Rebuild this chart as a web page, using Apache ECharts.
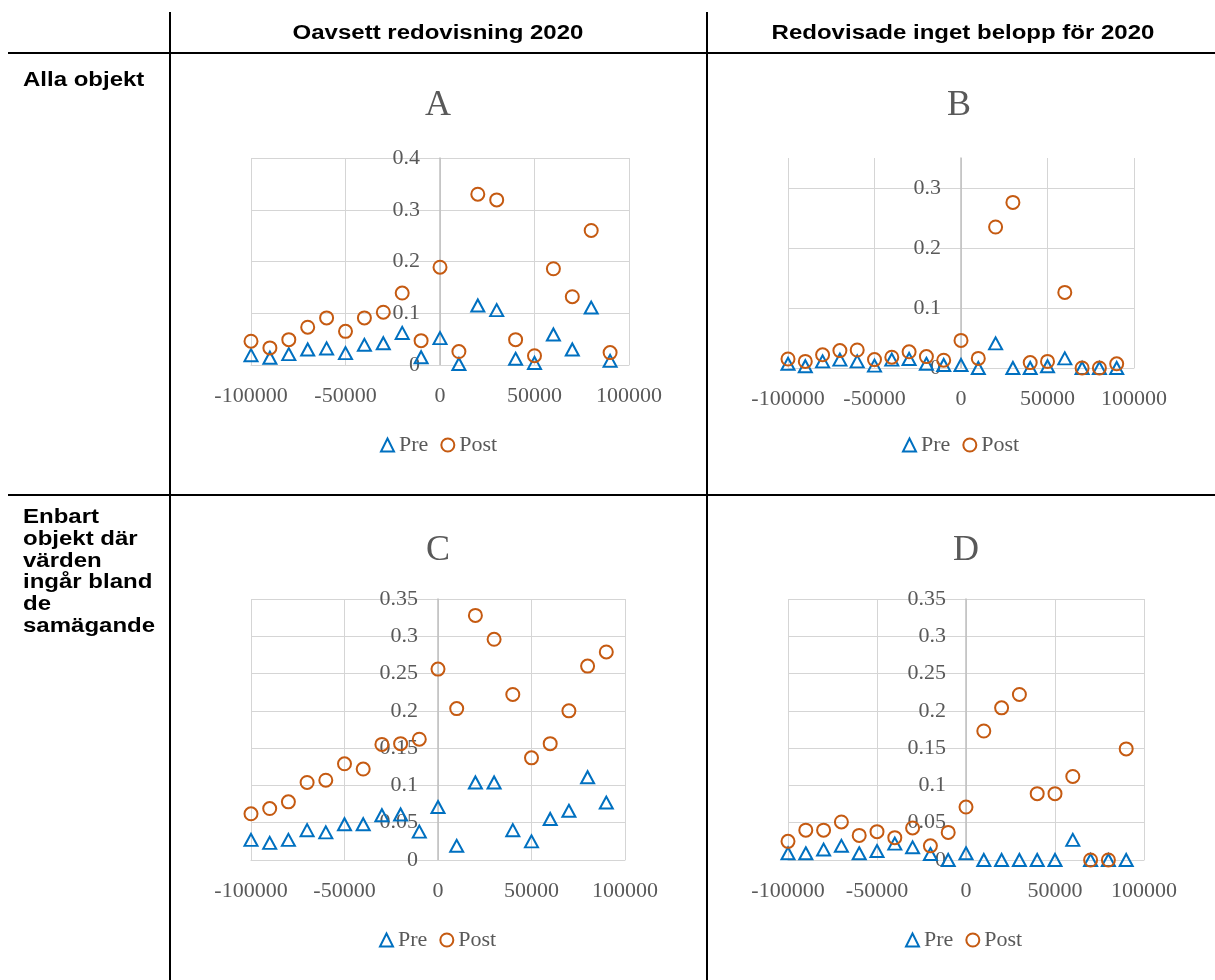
<!DOCTYPE html>
<html>
<head>
<meta charset="utf-8">
<script src="https://cdn.jsdelivr.net/npm/echarts@6/dist/echarts.min.js"></script>
<style>
  html, body { margin: 0; padding: 0; background: #ffffff; }
  #chart { width: 1215px; height: 980px; }
</style>
</head>
<body>
<div id="chart"></div>
<script>
// ---- data -------------------------------------------------------------
// Distance class (kr) on the horizontal axis
const bins = [-100000, -90000, -80000, -70000, -60000, -50000, -40000, -30000, -20000, -10000,
              0, 10000, 20000, 30000, 40000, 50000, 60000, 70000, 80000, 90000];

const seriesNames = ['Pre', 'Post'];
const panelTitles = ['A', 'B', 'C', 'D'];
const columnHeaders = ['Oavsett redovisning 2020', 'Redovisade inget belopp för 2020'];
const rowHeaders = ['Alla objekt', 'Enbart\nobjekt där\nvärden\ningår bland\nde\nsamägande'];

// A: alla objekt, oavsett redovisning 2020
const aPre  = [0.019, 0.014, 0.021, 0.030, 0.032, 0.023, 0.039, 0.042, 0.062, 0.015,
               0.052, 0.002, 0.115, 0.106, 0.012, 0.004, 0.059, 0.030, 0.111, 0.008];
const aPost = [0.046, 0.033, 0.049, 0.073, 0.091, 0.065, 0.091, 0.102, 0.139, 0.047,
               0.189, 0.026, 0.330, 0.319, 0.049, 0.018, 0.186, 0.132, 0.260, 0.024];
// B: alla objekt, redovisade inget belopp för 2020
const bPre  = [0.007, 0.003, 0.011, 0.014, 0.011, 0.004, 0.014, 0.015, 0.007, 0.005,
               0.005, 0.000, 0.041, 0.000, 0.000, 0.003, 0.016, 0.000, 0.000, 0.000];
const bPost = [0.015, 0.011, 0.022, 0.029, 0.030, 0.014, 0.018, 0.027, 0.019, 0.013,
               0.046, 0.016, 0.235, 0.276, 0.009, 0.011, 0.126, 0.000, 0.000, 0.007];
// C: samägda objekt, oavsett redovisning 2020
const cPre  = [0.027, 0.023, 0.027, 0.040, 0.037, 0.048, 0.048, 0.060, 0.061, 0.038,
               0.071, 0.019, 0.104, 0.104, 0.040, 0.025, 0.055, 0.066, 0.111, 0.077];
const cPost = [0.062, 0.069, 0.078, 0.104, 0.107, 0.129, 0.122, 0.155, 0.156, 0.162,
               0.256, 0.203, 0.328, 0.296, 0.222, 0.137, 0.156, 0.200, 0.260, 0.279];
// D: samägda objekt, redovisade inget belopp för 2020
const dPre  = [0.009, 0.009, 0.014, 0.019, 0.009, 0.012, 0.022, 0.017, 0.008, 0.000,
               0.009, 0.000, 0.000, 0.000, 0.000, 0.000, 0.027, 0.000, 0.000, 0.000];
const dPost = [0.025, 0.040, 0.040, 0.051, 0.033, 0.038, 0.030, 0.043, 0.019, 0.037,
               0.071, 0.173, 0.204, 0.222, 0.089, 0.089, 0.112, 0.000, 0.000, 0.149];

const panelData = [[aPre, aPost], [bPre, bPost], [cPre, cPost], [dPre, dPost]];

// ---- layout -----------------------------------------------------------
const panels = [
  { left: 251, top: 158, width: 378, height: 207, yMax: 0.40, yStep: 0.10, topLine: true,
    title: [438, 106], legend: [380, 434] },
  { left: 788, top: 158, width: 346, height: 210, yMax: 0.35, yStep: 0.10, topLine: false,
    title: [959, 106], legend: [902, 434] },
  { left: 251, top: 599, width: 374, height: 261, yMax: 0.35, yStep: 0.05, topLine: true,
    title: [438, 551], legend: [379, 929] },
  { left: 788, top: 599, width: 356, height: 261, yMax: 0.35, yStep: 0.05, topLine: true,
    title: [966, 551], legend: [905, 929] }
];

const serifFont = "'Liberation Serif', 'Times New Roman', serif";
const sansFont = "'Liberation Sans', Arial, sans-serif";
const labelGrey = '#595959';
const gridGrey = '#d5d5d5';
const preColor = '#0070C0';
const postColor = '#C55A11';

const markerStyles = [
  { symbol: 'triangle', symbolSize: [13, 12], color: preColor },
  { symbol: 'circle', symbolSize: 13, color: postColor }
];

const grids = [], xAxes = [], yAxes = [], series = [], legends = [], graphics = [];

panels.forEach((p, i) => {
  grids.push({
    left: p.left, top: p.top, width: p.width, height: p.height,
    containLabel: false, outerBoundsMode: 'none'
  });
  xAxes.push({
    type: 'value', gridIndex: i, min: -100000, max: 100000, interval: 50000,
    axisLine: { show: true, lineStyle: { color: gridGrey, width: 1 } },
    axisTick: { show: false },
    axisLabel: {
      margin: 20, color: labelGrey, fontFamily: serifFont, fontSize: 22,
      formatter: v => String(v)
    },
    splitLine: { show: true, lineStyle: { color: gridGrey, width: 1 } }
  });
  // the vertical axis crosses the horizontal one at 0, in the middle of the plot
  yAxes.push({
    type: 'value', gridIndex: i, min: 0, max: p.yMax, interval: p.yStep,
    position: 'left', offset: -p.width / 2,
    axisLine: { show: true, onZero: false, lineStyle: { color: '#bfbfbf', width: 1.5 } },
    axisTick: { show: false },
    axisLabel: {
      margin: 20, color: labelGrey, fontFamily: serifFont, fontSize: 22,
      showMaxLabel: p.topLine,
      formatter: v => String(Math.round(v * 100) / 100)
    },
    splitLine: { show: true, showMaxLine: p.topLine, lineStyle: { color: gridGrey, width: 1 } }
  });
  seriesNames.forEach((name, s) => {
    const m = markerStyles[s];
    series.push({
      type: 'scatter', name: name, xAxisIndex: i, yAxisIndex: i,
      symbol: m.symbol, symbolSize: m.symbolSize,
      itemStyle: { color: 'rgba(255,255,255,0)', borderColor: m.color, borderWidth: 2, opacity: 1 },
      emphasis: { disabled: true },
      z: 3 + s,
      data: bins.map((x, k) => [x, panelData[i][s][k]])
    });
  });
  legends.push({
    left: p.legend[0], top: p.legend[1], padding: 0,
    itemWidth: 13, itemHeight: 13, itemGap: 12,
    selectedMode: false,
    textStyle: { color: labelGrey, fontFamily: serifFont, fontSize: 22 },
    data: seriesNames
  });
  graphics.push({
    type: 'text', x: p.title[0], y: p.title[1],
    style: {
      text: panelTitles[i], fill: labelGrey, fontFamily: serifFont, fontSize: 36,
      align: 'center', verticalAlign: 'middle'
    }
  });
});

// table rules
const rule = (x1, y1, x2, y2) => ({
  type: 'line', silent: true,
  shape: { x1, y1, x2, y2 },
  style: { stroke: '#000000', lineWidth: 2 }
});
graphics.push(rule(170, 12, 170, 980), rule(707, 12, 707, 980),
              rule(8, 53, 1215, 53), rule(8, 495, 1215, 495));

// table headers
const headerText = (text, x, y, align, vAlign) => ({
  type: 'text', x, y, scaleX: 1.2,
  style: {
    text, fill: '#000000', fontFamily: sansFont, fontWeight: 'bold', fontSize: 20,
    lineHeight: 21.7, align, verticalAlign: vAlign
  }
});
graphics.push(headerText(columnHeaders[0], 438, 33, 'center', 'middle'),
              headerText(columnHeaders[1], 963, 33, 'center', 'middle'),
              headerText(rowHeaders[0], 23, 80, 'left', 'middle'),
              headerText(rowHeaders[1], 23, 507, 'left', 'top'));

const chart = echarts.init(document.getElementById('chart'), null, { renderer: 'canvas' });
chart.setOption({
  backgroundColor: '#ffffff',
  animation: false,
  textStyle: { fontFamily: serifFont },
  grid: grids,
  xAxis: xAxes,
  yAxis: yAxes,
  legend: legends,
  series: series,
  graphic: graphics
});
</script>
</body>
</html>
